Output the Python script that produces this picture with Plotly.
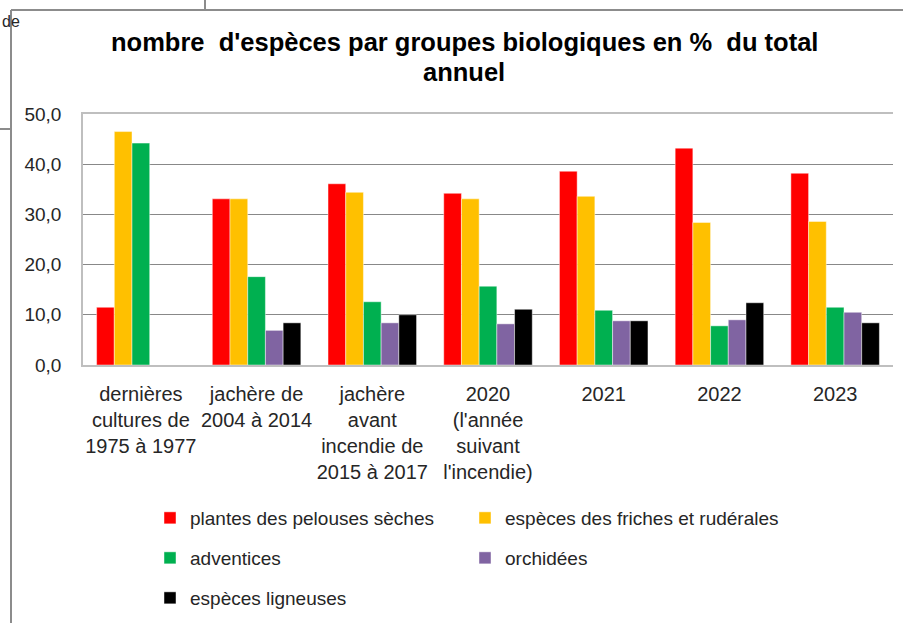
import plotly.graph_objects as go

# Categories (periods) and the share of each biological group, in % of the yearly total
categories = [
    "dernières<br>cultures de<br>1975 à 1977",
    "jachère de<br>2004 à 2014",
    "jachère<br>avant<br>incendie de<br>2015 à 2017",
    "2020<br>(l'année<br>suivant<br>l'incendie)",
    "2021",
    "2022",
    "2023",
]

plantes_pelouses = [11.5, 33.1, 36.1, 34.2, 38.6, 43.2, 38.2]
especes_friches = [46.5, 33.1, 34.4, 33.1, 33.6, 28.4, 28.6]
adventices = [44.2, 17.6, 12.6, 15.7, 10.9, 7.8, 11.5]
orchidees = [None, 6.9, 8.4, 8.2, 8.8, 9.0, 10.5]
especes_ligneuses = [None, 8.4, 10.0, 11.1, 8.8, 12.4, 8.4]

y_ticks = [0, 10, 20, 30, 40, 50]

title_lines = ["nombre  d'espèces par groupes biologiques en %  du total", "annuel"]

series = [
    ("plantes des pelouses sèches", plantes_pelouses, "#FF0000", "legend"),
    ("espèces des friches et rudérales", especes_friches, "#FFC000", "legend"),
    ("adventices", adventices, "#00B050", "legend2"),
    ("orchidées", orchidees, "#8064A2", "legend2"),
    ("espèces ligneuses", especes_ligneuses, "#000000", "legend3"),
]

W, H = 903, 623
L, R, T, B = 83, 10, 114, 258
PW, PH = W - L - R, H - T - B


def px_x(x):
    return (x - L) / PW


def px_y(y):
    return (H - B - y) / PH


FONT = "Liberation Sans, Arial, sans-serif"
TEXT = "#262626"

fig = go.Figure()
for name, vals, color, leg in series:
    fig.add_trace(go.Bar(
        x=categories, y=vals, name=name,
        marker=dict(color=color, line=dict(color="rgba(255,255,255,0.45)", width=1)),
        legend=leg,
    ))

# outer chart frame and the neighbouring lines around it
frame = dict(color="#8c8c8c", width=2)
shapes = [
    dict(type="line", xref="paper", yref="paper", x0=px_x(11), x1=px_x(11), y0=px_y(10), y1=px_y(623), line=frame),
    dict(type="line", xref="paper", yref="paper", x0=px_x(11), x1=px_x(903), y0=px_y(10), y1=px_y(10), line=frame),
    dict(type="line", xref="paper", yref="paper", x0=px_x(205), x1=px_x(205), y0=px_y(0), y1=px_y(10), line=frame),
    dict(type="line", xref="paper", yref="paper", x0=px_x(0), x1=px_x(11), y0=px_y(129), y1=px_y(129), line=frame),
]

legend_common = dict(
    orientation="h", xanchor="left", yanchor="middle",
    font=dict(family=FONT, size=19, color=TEXT),
    entrywidth=270, bgcolor="rgba(0,0,0,0)",
)

annotations = [
    dict(text=f"<b>{line}</b>", xref="paper", yref="paper", x=px_x(464), y=px_y(yc),
         xanchor="center", yanchor="middle", showarrow=False,
         font=dict(family=FONT, size=25.5, color="#000000"))
    for line, yc in zip(title_lines, [42, 72])
]
annotations.append(
    dict(text="de", xref="paper", yref="paper", x=px_x(0), y=px_y(21),
         xanchor="left", yanchor="middle", showarrow=False,
         font=dict(family=FONT, size=16, color=TEXT))
)

fig.update_layout(
    width=W, height=H,
    margin=dict(l=L, r=R, t=T, b=B, autoexpand=False),
    paper_bgcolor="white", plot_bgcolor="white",
    separators=", ",
    barmode="group", bargap=0.235, bargroupgap=0,
    xaxis=dict(
        showgrid=False, showline=True, mirror=True,
        linecolor="#BFBFBF", linewidth=1.5, tickangle=0,
        tickfont=dict(family=FONT, size=20, color=TEXT),
        ticks="", ticklabelstandoff=10,
    ),
    yaxis=dict(
        range=[0, 50], tickvals=y_ticks, tickformat=".1f",
        showgrid=True, gridcolor="#888888", gridwidth=1,
        showline=True, linecolor="#BFBFBF", linewidth=1.5,
        zeroline=False, ticks="", ticklabelstandoff=16,
        tickfont=dict(family=FONT, size=19, color=TEXT),
    ),
    legend=dict(x=px_x(150), y=px_y(518), **legend_common),
    legend2=dict(x=px_x(150), y=px_y(558), **legend_common),
    legend3=dict(x=px_x(150), y=px_y(598), **legend_common),
    shapes=shapes,
    annotations=annotations,
)

fig.write_html("out.html")
